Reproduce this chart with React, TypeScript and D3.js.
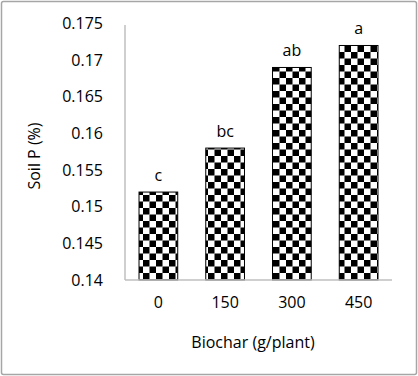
import React from "react";
import * as d3 from "d3";

const categories = ["0", "150", "300", "450"];
const values = [0.152, 0.158, 0.169, 0.172];
const letters = ["c", "bc", "ab", "a"];
const yTicks = [0.14, 0.145, 0.15, 0.155, 0.16, 0.165, 0.17, 0.175];
const yTickLabels = ["0.14", "0.145", "0.15", "0.155", "0.16", "0.165", "0.17", "0.175"];

const W = 418;
const H = 376;
const left = 125;
const right = 392;
const top = 23.5;
const bottom = 280;
const FONT = "'Open Sans', sans-serif";

export default function App() {
  const x = d3.scaleBand<string>().domain(categories).range([left, right]).paddingInner(0.42).paddingOuter(0.21);
  const y = d3.scaleLinear().domain([0.14, 0.175]).range([bottom, top]);
  return (
    <svg width={W} height={H} style={{ position: "absolute", left: 0, top: 0 }}>
      <defs>
        <pattern id="chk" patternUnits="userSpaceOnUse" width={13} height={13}>
          <rect width={13} height={13} fill="#fff" />
          <rect x={0} y={0} width={6.5} height={6.5} fill="#000" />
          <rect x={6.5} y={6.5} width={6.5} height={6.5} fill="#000" />
        </pattern>
      </defs>
      <rect x={0} y={0} width={W} height={H} fill="#fff" />
      <rect x={1.5} y={1.5} width={W - 3} height={H - 3} rx={2} fill="none" stroke="#a6a6a6" strokeWidth={1.5} />
      <line x1={left} x2={left} y1={25} y2={bottom} stroke="#bfbfbf" strokeWidth={1.5} />
      {yTicks.map((t, i) => (
        <text key={t} x={103} y={y(t)} dy="0.35em" textAnchor="end" fontFamily={FONT} fontSize={16} fill="#000">
          {yTickLabels[i]}
        </text>
      ))}
      {categories.map((c, i) => {
        const bx = x(c)!;
        const by = y(values[i]);
        return (
          <g key={c}>
            <rect x={bx} y={by} width={x.bandwidth()} height={bottom - by} fill="url(#chk)" stroke="#000" strokeWidth={1} />
            <text x={bx + x.bandwidth() / 2} y={by - 17} dy="0.35em" textAnchor="middle" fontFamily={FONT} fontSize={16}>
              {letters[i]}
            </text>
            <text x={bx + x.bandwidth() / 2} y={302} dy="0.35em" textAnchor="middle" fontFamily={FONT} fontSize={16}>
              {c}
            </text>
          </g>
        );
      })}
      <line x1={left} x2={right} y1={bottom} y2={bottom} stroke="#bfbfbf" strokeWidth={1.5} />
      <text x={253} y={342} dy="0.35em" textAnchor="middle" fontFamily={FONT} fontSize={16}>
        Biochar (g/plant)
      </text>
      <text transform={`translate(34,156) rotate(-90)`} dy="0.35em" textAnchor="middle" fontFamily={FONT} fontSize={16}>
        Soil P (%)
      </text>
    </svg>
  );
}
